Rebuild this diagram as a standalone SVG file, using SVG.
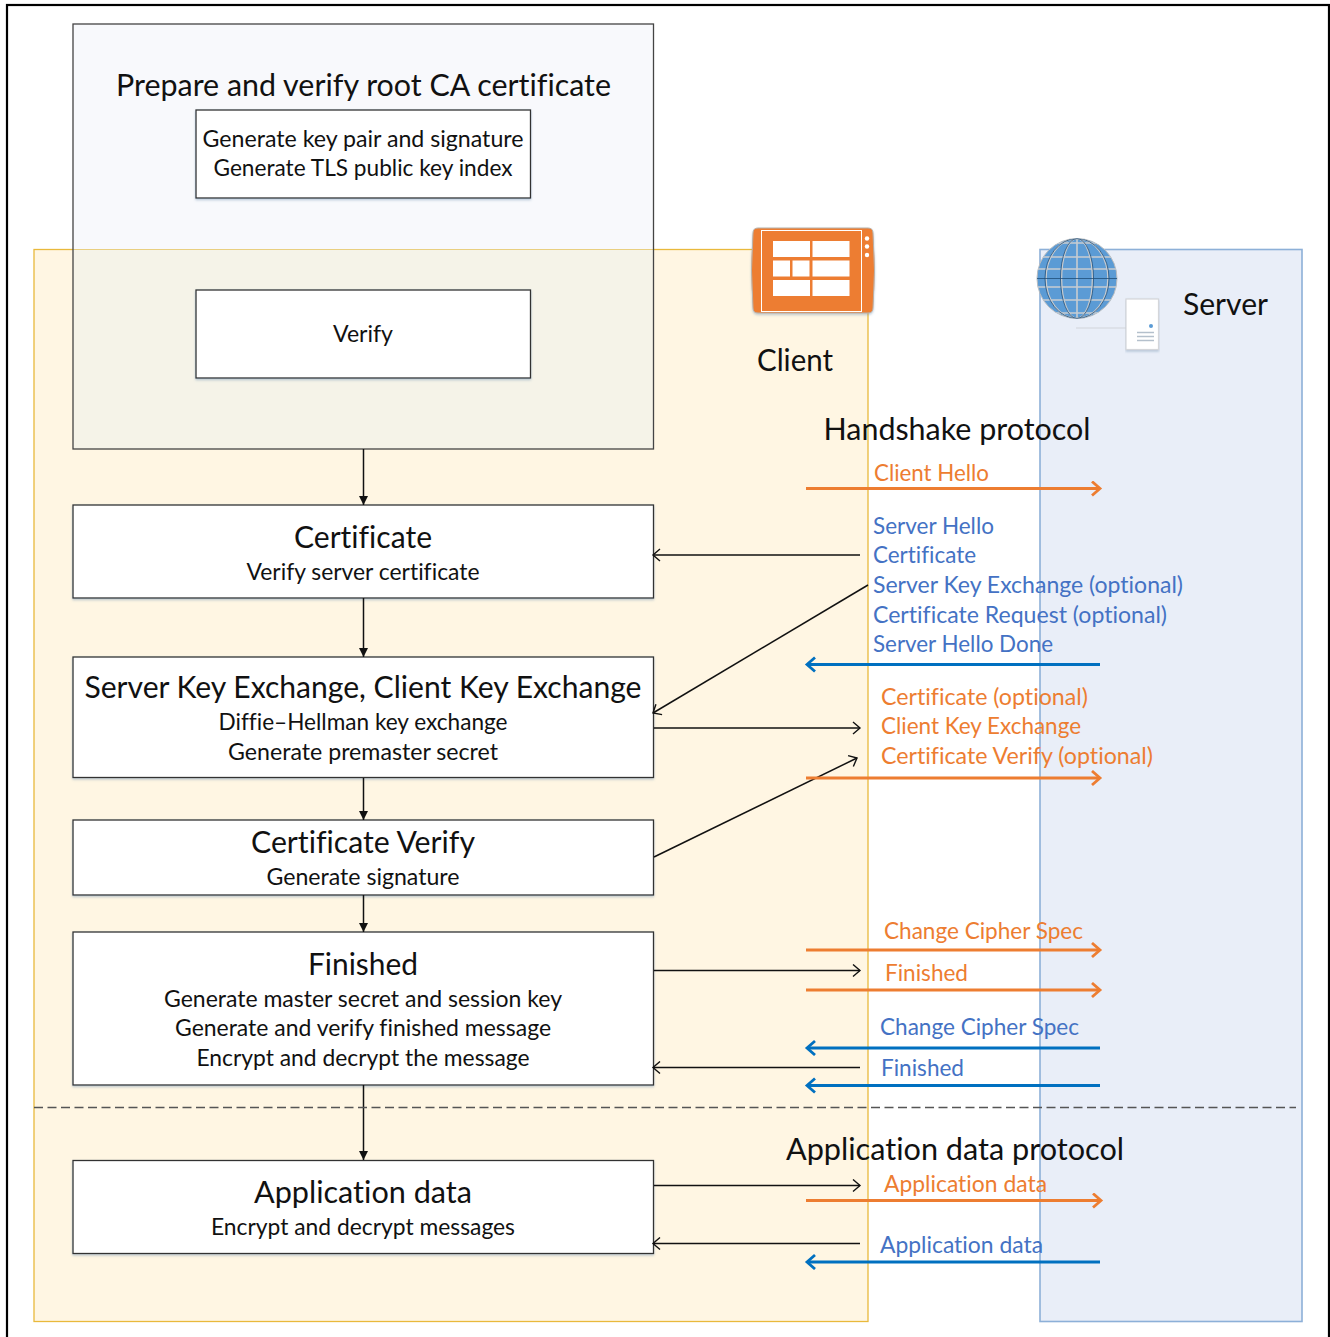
<svg xmlns="http://www.w3.org/2000/svg" width="1330" height="1337" viewBox="0 0 1330 1337">
<style>
text{font-family:Lato,"Open Sans","Liberation Sans",sans-serif;text-anchor:middle;fill:#111;font-variant-ligatures:none}
.t{font-size:30px}
.s{font-size:23px}
.o{fill:#ed7d31;font-size:23px;text-anchor:start}
.b{fill:#4472c4;font-size:23px;text-anchor:start}
.box{fill:#fff;stroke:#333;stroke-width:1.3;filter:url(#sh)}
.thin{fill:none;stroke:#111;stroke-width:1.5}
.or{fill:none;stroke:#ed7d31;stroke-width:2.800}
.bl{fill:none;stroke:#0070c0;stroke-width:2.800}
.gl{fill:none;stroke:#c8ccd0;stroke-width:1.6}
.gd{fill:none;stroke:#1f4e79;stroke-width:.8}
</style>
<defs>
<filter id="sh" x="-3%" y="-5%" width="106%" height="115%"><feDropShadow dx="0" dy="1.5" stdDeviation="1.2" flood-color="#6f8fb0" flood-opacity=".45"/></filter>
<marker id="af" markerUnits="userSpaceOnUse" markerWidth="12" markerHeight="12" refX="5" refY="10" orient="0"><path d="M0.500 1 H9.500 L5 10 Z" fill="#111"/></marker>
<marker id="at" markerUnits="userSpaceOnUse" markerWidth="12" markerHeight="14" refX="8" refY="7" orient="auto-start-reverse"><path d="M1 1 L8 7 L1 13" fill="none" stroke="#111" stroke-width="1.400"/></marker>
<marker id="ao" markerUnits="userSpaceOnUse" markerWidth="14" markerHeight="18" refX="10" refY="8" orient="auto"><path d="M2 1 L10 8 L2 15" fill="none" stroke="#ed7d31" stroke-width="2.800"/></marker>
<marker id="ab" markerUnits="userSpaceOnUse" markerWidth="14" markerHeight="18" refX="10" refY="8" orient="auto"><path d="M2 1 L10 8 L2 15" fill="none" stroke="#0070c0" stroke-width="2.800"/></marker>
<clipPath id="gc"><circle cx="1077" cy="278.500" r="40"/></clipPath>
</defs>
<rect x="0" y="0" width="1330" height="1337" fill="#fff"/>
<rect x="7" y="5" width="1322" height="1345" fill="#fff" stroke="#000" stroke-width="2.200"/>

<g id="panel-client"><rect x="34" y="249.500" width="834" height="1072" fill="#fff6e3" stroke="#e9b93c" stroke-width="1.300"/></g>
<g id="panel-server"><rect x="1040" y="249.500" width="262" height="1072" fill="#e9eef8" stroke="#8db0d8" stroke-width="1.600"/></g>
<g id="panel-prepare">
<rect x="73" y="24" width="580.500" height="225" fill="#f8f9fc"/>
<rect x="73" y="249" width="580.500" height="200" fill="#f5f3e8"/>
<line x1="73" y1="249.500" x2="653" y2="249.500" stroke="#e9cf80" stroke-width="1"/>
<rect x="73" y="24" width="580.500" height="425" fill="none" stroke="#444" stroke-width="1.300"/>
<text class="t" x="363.500" y="96" textLength="495" lengthAdjust="spacingAndGlyphs">Prepare and verify root CA certificate</text>
</g>
<g id="node-generate"><rect class="box" x="196" y="110" width="334.500" height="88"/>
<text class="s" x="363" y="147" textLength="321" lengthAdjust="spacingAndGlyphs">Generate key pair and signature</text>
<text class="s" x="363" y="176" textLength="299" lengthAdjust="spacingAndGlyphs">Generate TLS public key index</text></g>
<g id="node-verify"><rect class="box" x="196" y="290" width="334.500" height="88"/>
<text class="s" x="363" y="342" textLength="60" lengthAdjust="spacingAndGlyphs">Verify</text></g>
<g id="node-certificate"><rect class="box" x="73" y="505" width="580.500" height="93"/>
<text class="t" x="363" y="548" textLength="138" lengthAdjust="spacingAndGlyphs">Certificate</text>
<text class="s" x="363" y="580" textLength="233" lengthAdjust="spacingAndGlyphs">Verify server certificate</text></g>
<g id="node-kex"><rect class="box" x="73" y="657" width="580.500" height="120.500"/>
<text class="t" x="363" y="698" textLength="557" lengthAdjust="spacingAndGlyphs">Server Key Exchange, Client Key Exchange</text>
<text class="s" x="363" y="730" textLength="289" lengthAdjust="spacingAndGlyphs">Diffie–Hellman key exchange</text>
<text class="s" x="363" y="760" textLength="270" lengthAdjust="spacingAndGlyphs">Generate premaster secret</text></g>
<g id="node-certverify"><rect class="box" x="73" y="820" width="580.500" height="75"/>
<text class="t" x="363" y="853" textLength="224" lengthAdjust="spacingAndGlyphs">Certificate Verify</text>
<text class="s" x="363" y="885" textLength="193" lengthAdjust="spacingAndGlyphs">Generate signature</text></g>
<g id="node-finished"><rect class="box" x="73" y="932" width="580.500" height="153"/>
<text class="t" x="363" y="975" textLength="110" lengthAdjust="spacingAndGlyphs">Finished</text>
<text class="s" x="363" y="1007" textLength="398" lengthAdjust="spacingAndGlyphs">Generate master secret and session key</text>
<text class="s" x="363" y="1036" textLength="376" lengthAdjust="spacingAndGlyphs">Generate and verify finished message</text>
<text class="s" x="363" y="1066" textLength="333" lengthAdjust="spacingAndGlyphs">Encrypt and decrypt the message</text></g>
<g id="node-appdata"><rect class="box" x="73" y="1160.500" width="580.500" height="93"/>
<text class="t" x="363" y="1203" textLength="218" lengthAdjust="spacingAndGlyphs">Application data</text>
<text class="s" x="363" y="1235" textLength="304" lengthAdjust="spacingAndGlyphs">Encrypt and decrypt messages</text></g>

<g id="icon-client">
<path d="M758 228 H868 Q873 228 873 233 Q876 270 873 308 Q873 313 868 313 H758 Q753 313 753 308 Q750 270 753 233 Q753 228 758 228 Z" fill="#ed7d31" stroke="#b9b2aa" stroke-width="1" filter="url(#sh)"/>
<rect x="761.500" y="230.500" width="100" height="81" fill="none" stroke="#fff" stroke-width="1"/>
<g fill="#fff"><rect x="773" y="241" width="37" height="16"/><rect x="812.500" y="241" width="37" height="16"/>
<rect x="773" y="260.500" width="17" height="16"/><rect x="792.500" y="260.500" width="17" height="16"/><rect x="812.500" y="260.500" width="37" height="16"/>
<rect x="773" y="280" width="37" height="16"/><rect x="812.500" y="280" width="37" height="16"/>
<circle cx="867" cy="238.500" r="2.200"/><circle cx="867" cy="246.500" r="2.200"/><circle cx="867" cy="255" r="2.200"/></g>
</g>
<g id="label-client"><text class="t" x="795" y="371" textLength="76" lengthAdjust="spacingAndGlyphs">Client</text></g>

<g id="icon-server">
<line x1="1076" y1="328" x2="1127" y2="328" stroke="#d8dce4" stroke-width="1.6"/>
<rect x="1126" y="299" width="32.500" height="50.500" fill="#fff" stroke="#d4d6da" stroke-width="1.2" filter="url(#sh)"/>
<circle cx="1151" cy="326" r="2" fill="#5b9bd5"/>
<g stroke="#b4c0cc" stroke-width="1.5"><line x1="1137" y1="332.500" x2="1154" y2="332.500"/><line x1="1137" y1="336.500" x2="1154" y2="336.500"/><line x1="1137" y1="340.500" x2="1154" y2="340.500"/></g>
<circle cx="1077" cy="278.500" r="40" fill="#5b9bd5" stroke="#b8bcc0" stroke-width="1"/>
<g clip-path="url(#gc)">
<g class="gl"><ellipse cx="1077" cy="278.500" rx="15.500" ry="40"/><ellipse cx="1077" cy="278.500" rx="31" ry="40"/><line x1="1077" y1="238" x2="1077" y2="318"/>
<line x1="1037" y1="243" x2="1117" y2="243"/><line x1="1037" y1="257" x2="1117" y2="257"/><line x1="1037" y1="269" x2="1117" y2="269"/><line x1="1037" y1="287" x2="1117" y2="287"/><line x1="1037" y1="300" x2="1117" y2="300"/><line x1="1037" y1="313" x2="1117" y2="313"/></g>
<g class="gd"><ellipse cx="1077" cy="278.500" rx="16.500" ry="40"/><ellipse cx="1077" cy="278.500" rx="32" ry="40"/><line x1="1037" y1="278.500" x2="1117" y2="278.500"/></g>
</g>
</g>
<g id="label-server"><text class="t" x="1225.500" y="315" textLength="85" lengthAdjust="spacingAndGlyphs">Server</text></g>

<g id="connectors">
<line class="thin" x1="363.500" y1="449" x2="363.500" y2="505" marker-end="url(#af)"/>
<line class="thin" x1="363.500" y1="598" x2="363.500" y2="657" marker-end="url(#af)"/>
<line class="thin" x1="363.500" y1="778" x2="363.500" y2="820" marker-end="url(#af)"/>
<line class="thin" x1="363.500" y1="895" x2="363.500" y2="932" marker-end="url(#af)"/>
<line class="thin" x1="363.500" y1="1085" x2="363.500" y2="1160" marker-end="url(#af)"/>
<line class="thin" x1="860" y1="555" x2="653" y2="555" marker-end="url(#at)"/>
<line class="thin" x1="868" y1="585" x2="653" y2="713" marker-end="url(#at)"/>
<line class="thin" x1="654" y1="728" x2="860" y2="728" marker-end="url(#at)"/>
<line class="thin" x1="654" y1="857" x2="857" y2="758" marker-end="url(#at)"/>
<line class="thin" x1="654" y1="970.500" x2="860" y2="970.500" marker-end="url(#at)"/>
<line class="thin" x1="860" y1="1067.500" x2="653" y2="1067.500" marker-end="url(#at)"/>
<line class="thin" x1="654" y1="1185.500" x2="860" y2="1185.500" marker-end="url(#at)"/>
<line class="thin" x1="860" y1="1243.500" x2="653" y2="1243.500" marker-end="url(#at)"/>
<line class="or" x1="806" y1="488.500" x2="1100" y2="488.500" marker-end="url(#ao)"/>
<line class="bl" x1="1100" y1="664.500" x2="807" y2="664.500" marker-end="url(#ab)"/>
<line class="or" x1="806" y1="778" x2="1100" y2="778" marker-end="url(#ao)"/>
<line class="or" x1="806" y1="950" x2="1100" y2="950" marker-end="url(#ao)"/>
<line class="or" x1="806" y1="990" x2="1100" y2="990" marker-end="url(#ao)"/>
<line class="bl" x1="1100" y1="1048" x2="807" y2="1048" marker-end="url(#ab)"/>
<line class="bl" x1="1100" y1="1085.500" x2="807" y2="1085.500" marker-end="url(#ab)"/>
<line class="or" x1="806" y1="1200.500" x2="1101" y2="1200.500" marker-end="url(#ao)"/>
<line class="bl" x1="1100" y1="1262" x2="807" y2="1262" marker-end="url(#ab)"/>
<line x1="34" y1="1107.500" x2="1296" y2="1107.500" stroke="#555" stroke-width="1.4" stroke-dasharray="9 4.500"/>
</g>

<g id="labels">
<text class="t" x="957" y="440" textLength="267" lengthAdjust="spacingAndGlyphs">Handshake protocol</text>
<text class="t" x="955" y="1160" textLength="338" lengthAdjust="spacingAndGlyphs">Application data protocol</text>
<text class="o" x="874" y="481" textLength="115" lengthAdjust="spacingAndGlyphs">Client Hello</text>
<text class="b" x="873" y="534" textLength="121" lengthAdjust="spacingAndGlyphs">Server Hello</text>
<text class="b" x="873" y="563" textLength="103" lengthAdjust="spacingAndGlyphs">Certificate</text>
<text class="b" x="873" y="593" textLength="310" lengthAdjust="spacingAndGlyphs">Server Key Exchange (optional)</text>
<text class="b" x="873" y="623" textLength="294" lengthAdjust="spacingAndGlyphs">Certificate Request (optional)</text>
<text class="b" x="873" y="652" textLength="180" lengthAdjust="spacingAndGlyphs">Server Hello Done</text>
<text class="o" x="881" y="705" textLength="207" lengthAdjust="spacingAndGlyphs">Certificate (optional)</text>
<text class="o" x="881" y="734" textLength="200" lengthAdjust="spacingAndGlyphs">Client Key Exchange</text>
<text class="o" x="881" y="764" textLength="272" lengthAdjust="spacingAndGlyphs">Certificate Verify (optional)</text>
<text class="o" x="884" y="939" textLength="199" lengthAdjust="spacingAndGlyphs">Change Cipher Spec</text>
<text class="o" x="885" y="981" textLength="83" lengthAdjust="spacingAndGlyphs">Finished</text>
<text class="b" x="880" y="1035" textLength="199" lengthAdjust="spacingAndGlyphs">Change Cipher Spec</text>
<text class="b" x="881" y="1076" textLength="83" lengthAdjust="spacingAndGlyphs">Finished</text>
<text class="o" x="884" y="1192" textLength="163" lengthAdjust="spacingAndGlyphs">Application data</text>
<text class="b" x="880" y="1253" textLength="163" lengthAdjust="spacingAndGlyphs">Application data</text>
</g>
</svg>
